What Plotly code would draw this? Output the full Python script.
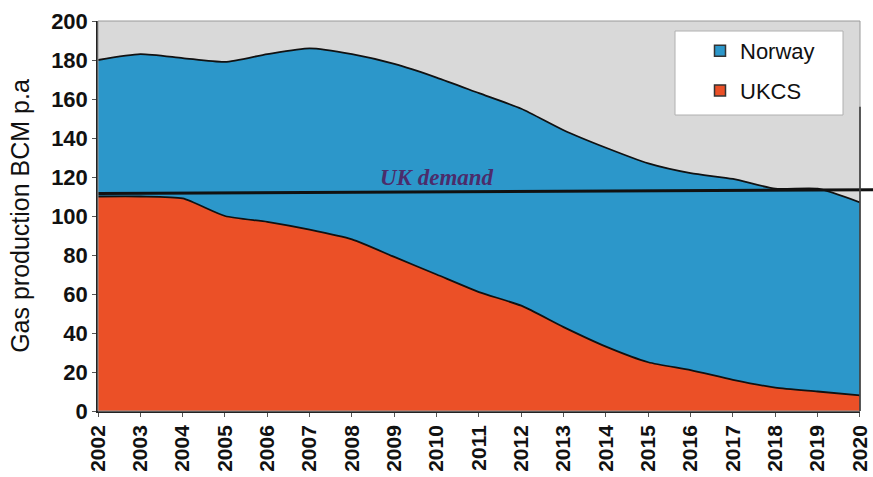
import plotly.graph_objects as go

years = list(range(2002, 2021))
ukcs = [110, 110, 109, 100, 97, 93, 88, 79, 70, 61, 54, 43, 33, 25, 21, 16, 12, 10, 8]
total = [180, 183, 181, 179, 183, 186, 183, 178, 171, 163, 155, 144, 135, 127, 122, 119, 114, 114, 107]
norway = [t - u for t, u in zip(total, ukcs)]
demand_start, demand_end = 111.5, 113.5
y_ticks = list(range(0, 201, 20))

RED = "#eb5027"
BLUE = "#2c97ca"

L, R, T, B = 98, 13, 21, 66
PW, PH = 873 - L - R, 477 - T - B

fig = go.Figure()
fig.add_trace(go.Scatter(
    x=years, y=ukcs, name="UKCS", stackgroup="s", mode="lines", showlegend=False,
    line=dict(color="#111111", width=1.8, shape="spline", smoothing=0.6),
    fillcolor=RED, hoverinfo="skip",
))
fig.add_trace(go.Scatter(
    x=years, y=norway, name="Norway", stackgroup="s", mode="lines", showlegend=False,
    line=dict(color="#111111", width=1.8, shape="spline", smoothing=0.6),
    fillcolor=BLUE, hoverinfo="skip",
))
# legend entries with square swatches
for i, (name, col) in enumerate([("Norway", BLUE), ("UKCS", RED)]):
    fig.add_trace(go.Scatter(
        x=[None], y=[None], name=name, mode="markers", legendgroup=f"g{i}",
        marker=dict(symbol="square", size=11, color=col, line=dict(color="#333333", width=1.5)),
    ))

fig.add_shape(type="line", xref="paper", yref="y", x0=0, x1=1.02,
              y0=demand_start, y1=demand_end,
              line=dict(color="#111111", width=3))
fig.add_shape(type="rect", xref="paper", yref="paper", x0=0, x1=1, y0=0, y1=1,
              line=dict(color="#9a9a9a", width=1))
fig.add_shape(type="line", xref="paper", yref="paper", x0=1, x1=1, y0=0, y1=0.78,
              line=dict(color="#333333", width=1.5))
# legend box
fig.add_shape(type="rect", xref="paper", yref="paper",
              x0=(675 - L) / PW, x1=(843 - L) / PW,
              y0=(411 - 115) / PH, y1=(411 - 31) / PH,
              fillcolor="white", line=dict(color="#b0b0b0", width=1))

fig.add_annotation(x=2010, y=119.5, text="<i><b>UK demand</b></i>", showarrow=False,
                   font=dict(family="Liberation Serif", size=23, color="#4b2c6b"))

fig.update_layout(
    width=873, height=477,
    margin=dict(l=L, r=R, t=T, b=B),
    paper_bgcolor="white", plot_bgcolor="#d9d9d9",
    showlegend=True,
    legend=dict(x=(700 - L) / PW, y=(411 - 30) / PH, xanchor="left", yanchor="top",
                bgcolor="rgba(0,0,0,0)", borderwidth=0, traceorder="grouped",
                font=dict(family="Liberation Sans", size=22, color="#111111"),
                itemwidth=30, tracegroupgap=8),
    font=dict(family="Liberation Sans", color="#111111"),
)
fig.update_xaxes(
    range=[2002, 2020.001], tickmode="array", tickvals=years,
    ticktext=[f"<b>{y}</b>" for y in years], tickangle=-90,
    tickfont=dict(size=21, family="Liberation Sans"), ticklabeloverflow="allow",
    showgrid=False, zeroline=False, showline=True, linecolor="#222222", linewidth=1.5,
    ticks="outside", ticklen=4, tickcolor="#555555", automargin=False,
)
fig.update_yaxes(
    range=[0, 200], tickmode="array", tickvals=y_ticks,
    ticktext=[f"<b>{v}</b>" for v in y_ticks],
    tickfont=dict(size=22, family="Liberation Sans"),
    showgrid=False, zeroline=False, showline=True, linecolor="#222222", linewidth=1.5,
    ticks="outside", ticklen=4, tickcolor="#555555", automargin=False,
    title=dict(text="Gas production BCM p.a", font=dict(size=25, family="Liberation Sans"), standoff=14),
)

fig.write_html("out.html", config={"displayModeBar": False},
               post_script="document.body.style.margin='0';document.body.style.overflow='hidden';")
